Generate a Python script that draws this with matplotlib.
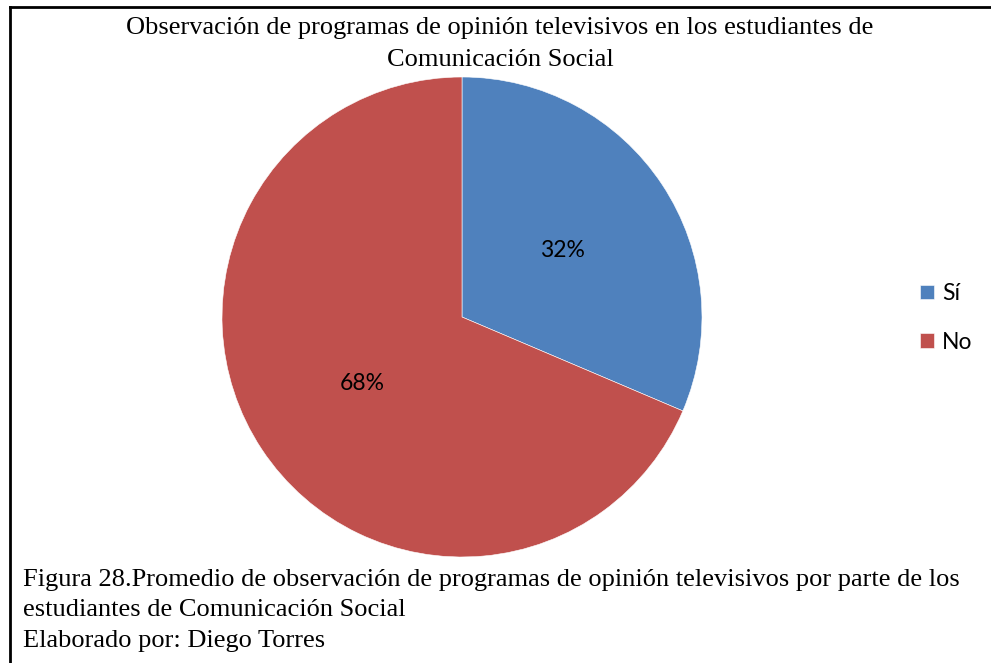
import matplotlib.pyplot as plt
import numpy as np
from matplotlib.lines import Line2D

# Data
categorias = ["Sí", "No"]
valores = [31.4, 68.6]
etiquetas = ["32%", "68%"]
colores = ["#4F81BD", "#C0504D"]

titulo = "Observación de programas de opinión televisivos en los estudiantes de\nComunicación Social"
pie_texto = ("Figura 28.Promedio de observación de programas de opinión televisivos por parte de los\n"
             "estudiantes de Comunicación Social\n"
             "Elaborado por: Diego Torres")

W, H = 991, 663
fig = plt.figure(figsize=(W / 100, H / 100), dpi=100)

# pie centered at (462, 317) px, radius 240 px
cx, cy, r = 462, 317, 240
ax = fig.add_axes([(cx - r) / W, 1 - (cy + r) / H, 2 * r / W, 2 * r / H])
wedges, _ = ax.pie(valores, colors=colores, startangle=90, counterclock=False,
                   radius=1, wedgeprops=dict(edgecolor="white", linewidth=0.4))
# percentage labels at half radius, in the middle of each slice
for w, lab in zip(wedges, etiquetas):
    mid = np.deg2rad((w.theta1 + w.theta2) / 2)
    ax.text(0.5 * np.cos(mid), 0.5 * np.sin(mid), lab, ha="center", va="center",
            fontsize=16.5, family=["Lato", "DejaVu Sans"], color="black")
ax.set_xlim(-1, 1)
ax.set_ylim(-1, 1)
ax.set_aspect("equal")
ax.axis("off")

# title
fig.text(500 / W, 1 - 28 / H, titulo.split("\n")[0], ha="center", va="center", fontsize=19,
         family="Liberation Serif")
fig.text(500 / W, 1 - 60 / H, titulo.split("\n")[1], ha="center", va="center", fontsize=19,
         family="Liberation Serif")

# caption
for i, linea in enumerate(pie_texto.split("\n")):
    fig.text(23 / W, 1 - (580 + 30.5 * i) / H, linea, ha="left", va="center", fontsize=19,
             family="Liberation Serif")

# legend
fig.legend(wedges, categorias, loc="center left", bbox_to_anchor=(920 / W, 1 - 318 / H),
           frameon=False, prop={"family": ["Lato", "DejaVu Sans"], "size": 16.5},
           handlelength=0.6, handleheight=0.6, handletextpad=0.35, labelspacing=1.2,
           borderpad=0, borderaxespad=0)

# frame lines (top and left)
fig.add_artist(Line2D([10 / W, 1], [1 - 7 / H, 1 - 7 / H], color="black", lw=2,
                      transform=fig.transFigure))
fig.add_artist(Line2D([10 / W, 10 / W], [0, 1 - 7 / H], color="black", lw=2,
                      transform=fig.transFigure))

fig.savefig("out.png", dpi=100)
